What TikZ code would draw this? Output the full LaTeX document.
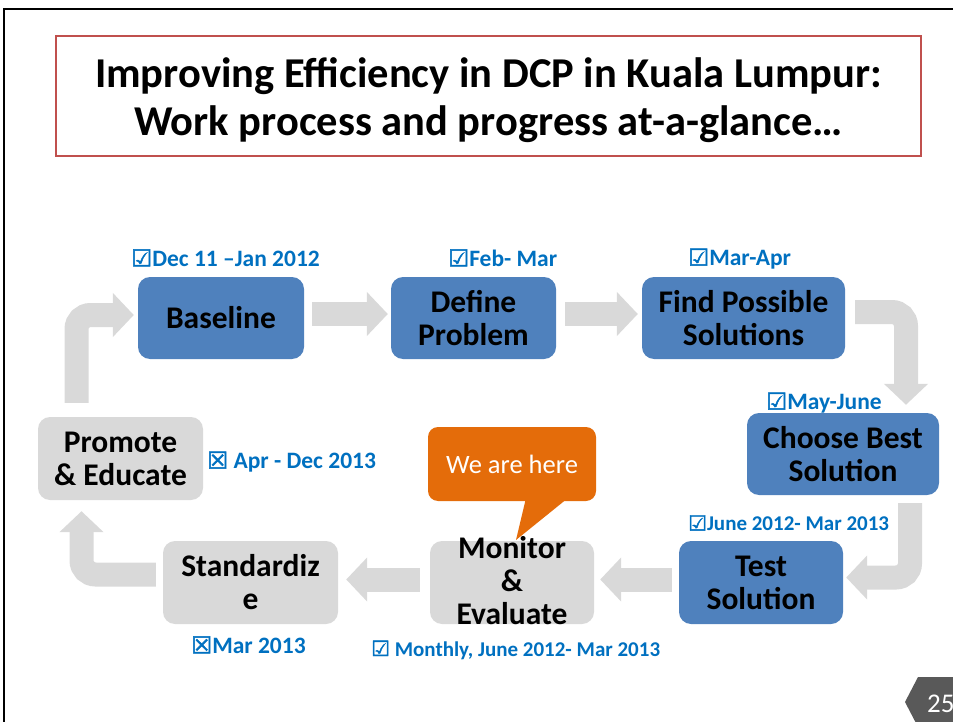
\documentclass[tikz,border=0pt]{standalone}
\usepackage{fontspec}
\setmainfont{Carlito}
\newfontfamily\symf[FakeBold=2]{DejaVu Sans}
\usetikzlibrary{arrows.meta,calc}
\definecolor{boxblue}{HTML}{4F81BD}
\definecolor{boxgrey}{HTML}{D9D9D9}
\definecolor{arrgrey}{HTML}{D9D9D9}
\definecolor{callorange}{HTML}{E46C0A}
\definecolor{lblblue}{HTML}{0070C0}
\definecolor{titlered}{HTML}{C0504D}
\definecolor{pagegrey}{HTML}{595959}
\newcommand{\chk}{{\symf\char"2611}}
\newcommand{\xbox}{{\symf\char"2612}}
\tikzset{
  stepbox/.style={rounded corners=12pt, inner sep=0pt, align=center,
    font=\fontsize{31.5}{33}\selectfont\bfseries, text=black},
  bluebox/.style={stepbox, fill=boxblue},
  greybox/.style={stepbox, fill=boxgrey},
  lbl/.style={anchor=west, inner sep=0pt, text=lblblue, font=\fontsize{23.5}{26}\selectfont\bfseries},
  lblsmall/.style={lbl, font=\fontsize{21}{24}\selectfont\bfseries},
  garrow/.style={draw=arrgrey, line width=24pt, rounded corners=14pt,
    -{Triangle[width=43pt,length=21pt]}},
}
\begin{document}
\begin{tikzpicture}[x=1pt,y=-1pt]
\useasboundingbox (0,0) rectangle (953,722);
% frame
\draw[line width=2.5pt] (4,722) -- (4,9) -- (953,9);
% title
\node[draw=titlered, line width=1.5pt, fill=white, minimum width=865pt, minimum height=120pt,
  inner sep=0pt, align=center, font=\fontsize{42.5}{48}\selectfont\bfseries] (title) at (488.5,96)
  {};
\node[align=center, inner sep=0pt, font=\fontsize{42.5}{48}\selectfont\bfseries] (titletext) at (488.5,100)
  {Improving Efficiency in DCP in Kuala Lumpur:\\Work process and progress at-a-glance…};
% boxes
\node[bluebox, minimum width=166pt, minimum height=82pt] (base) at (221,318) {Baseline};
\node[bluebox, minimum width=165pt, minimum height=82pt] (def) at (473.5,318) {Define\\Problem};
\node[bluebox, minimum width=203pt, minimum height=82pt] (find) at (743.5,318) {Find Possible\\Solutions};
\node[bluebox, minimum width=192pt, minimum height=82pt] (choose) at (843,454) {Choose Best\\Solution};
\node[bluebox, minimum width=164pt, minimum height=83pt] (test) at (761,582.5) {Test\\Solution};
\node[greybox, minimum width=164pt, minimum height=83pt] (mon) at (512,582.5) {};
\node[stepbox, fill=none] (montext) at (512,581) {Monitor\\\&\\Evaluate};
\node[greybox, minimum width=175pt, minimum height=83pt] (std) at (250.5,582.5) {Standardiz\\e};
\node[greybox, minimum width=165pt, minimum height=83pt] (prom) at (120.5,458.5) {Promote\\\& Educate};
% arrows
\draw[garrow] ($(base.east)+(8,-4)$) -- ($(def.west)+(-3,-4)$);
\draw[garrow] ($(def.east)+(9,-4)$) -- ($(find.west)+(-4,-4)$);
\draw[garrow] ($(find.east)+(10,-6)$) -| ($(choose.north)+(63,-8)$);
\draw[garrow] ($(choose.south)+(67,8)$) |- ($(test.east)+(3,-5)$);
\draw[garrow] ($(test.west)+(-7,-3)$) -- ($(mon.east)+(6,-3)$);
\draw[garrow] ($(mon.west)+(-10,-3)$) -- ($(std.east)+(8,-3)$);
\draw[garrow] ($(std.west)+(-7,-8)$) -| ($(prom.south)+(-39,11)$);
\draw[garrow] ($(prom.north)+(-44,-14)$) |- ($(base.west)+(-4,-3)$);
% labels
\node[lbl] (l1) at (131,258) {\chk Dec 11 –Jan 2012};
\node[lbl] (l2) at (448,258) {\chk Feb- Mar};
\node[lbl] (l3) at (688,259) {\chk Mar-Apr};
\node[lbl] (l4) at (766,403) {\chk May-June};
\node[lbl] (l5) at (207,462) {\xbox{} Apr - Dec 2013};
\node[lblsmall] (l6) at (688,523) {\chk June 2012- Mar 2013};
\node[lbl] (l7) at (191,645) {\xbox Mar 2013};
\node[lblsmall] (l8) at (371,650) {\chk{} Monthly, June 2012- Mar 2013};
% callout
\fill[callorange] (526,498) -- (568,498) -- (516,540) -- cycle;
\node[fill=callorange, rounded corners=10pt, minimum width=168pt, minimum height=74pt,
  inner sep=0pt, text=white, font=\fontsize{26.5}{30}\selectfont] (call) at (512,464) {We are here};
% page number
\fill[pagegrey] (905,702) -- (918,677) -- (953,677) -- (953,727) -- (918,727) -- cycle;
\node[anchor=west, inner sep=0pt, text=white, font=\fontsize{27}{30}\selectfont] (pg) at (927,704) {25};
\end{tikzpicture}
\end{document}
